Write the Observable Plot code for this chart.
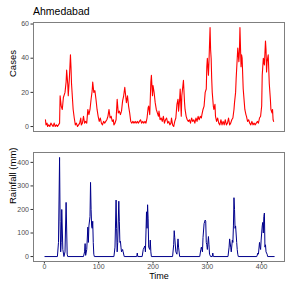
<!DOCTYPE html>
<html><head><meta charset="utf-8">
<script src="https://cdn.jsdelivr.net/npm/d3@7"></script>
<script src="https://cdn.jsdelivr.net/npm/@observablehq/plot@0.6"></script>
<style>
body{margin:0;background:#fff;font-family:"Liberation Sans",Arial,sans-serif}
#wrap{position:relative;width:293px;height:289px;overflow:hidden}
#title{position:absolute;left:33px;top:6px;font-size:10.5px;line-height:1;color:#000}
#top{position:absolute;left:0;top:0}
#bot{position:absolute;left:0;top:140px}
</style></head><body>
<div id="wrap"><div id="top"></div><div id="bot"></div><div id="title">Ahmedabad</div></div>
<script>
const cityName = "Ahmedabad";
const casesLabel = "Cases";
const rainLabel = "Rainfall (mm)";
const timeLabel = "Time";
const casesTicks = [0, 20, 40, 60];
const rainTicks = [0, 100, 200, 300, 400];
const timeTicks = [0, 100, 200, 300, 400];

// weekly cases (time, value)
const casesTime = [2,3,5,6,8,10,12,14,16,18,20,22,24,26,28,29,31,33,35,37,38,40,41,43,44,46,48,49,50,52,53,55,57,59,61,63,65,67,68,70,72,74,76,78,80,82,84,86,88,89,91,93,95,97,99,101,103,105,107,109,111,113,115,117,119,121,123,125,127,128,130,132,134,136,138,140,142,144,146,148,150,151,153,155,157,159,161,163,165,167,169,171,173,175,177,179,181,183,185,187,189,191,192,194,196,197,199,200,202,204,206,208,210,211,213,215,217,219,221,223,225,227,229,231,233,234,236,238,240,242,244,246,247,249,250,251,252,253,255,256,258,259,261,263,265,267,269,271,273,275,277,279,281,283,285,287,289,290,292,294,296,298,299,300,302,303,305,306,307,308,309,311,312,314,315,317,319,321,323,325,327,329,331,333,335,337,339,341,343,345,347,349,350,352,353,355,356,358,359,360,362,363,364,366,368,369,371,372,374,376,378,380,382,384,386,388,390,392,394,396,398,400,401,402,403,405,407,408,409,410,412,414,416,417,419,420,421,422];
const casesValue = [4,1,2,0,1,0,2,1,0,2,0,1,0,1,2,18,12,10,17,19,20,26,33,25,18,28,42,35,25,15,10,5,1,2,0,1,2,5,1,2,6,2,3,2,10,7,10,16,21,26,20,21,16,10,6,3,5,2,1,3,2,3,4,6,10,5,6,3,4,1,2,4,16,8,9,7,9,15,18,23,17,14,18,12,8,3,2,3,2,3,2,3,2,3,4,2,3,2,3,2,5,11,12,7,26,30,18,24,20,14,10,8,6,9,4,5,3,6,2,4,5,2,3,1,2,5,1,0,3,5,13,16,9,16,22,14,6,18,24,27,14,10,6,4,3,4,2,5,3,4,2,5,3,6,4,6,5,7,10,12,20,22,35,40,30,38,58,45,40,28,20,12,10,13,6,3,5,2,1,4,1,3,1,4,1,2,5,1,2,4,5,10,14,20,28,40,46,38,44,58,35,42,40,22,14,10,7,6,3,4,2,1,3,1,2,1,2,3,2,5,6,12,30,35,40,36,50,45,32,38,42,25,16,10,8,10,4,3];

// weekly rainfall (time, mm)
const rainTime = [1,24,26,28,29,30,31,32,34,36,38,40,42,43,72,74,75,76,78,80,81,82,84,85,86,87,88,89,90,91,92,128,130,132,133,134,135,137,138,139,140,141,142,144,145,147,170,171,172,180,182,184,185,186,187,188,189,190,191,192,194,195,196,197,236,238,239,240,242,244,246,247,249,286,288,289,291,292,294,296,297,298,299,300,302,303,304,306,309,310,311,338,340,341,343,344,346,347,348,349,350,351,352,354,355,356,357,391,393,394,396,397,398,399,401,402,403,404,405,406,407,408,410,411,423];
const rainValue = [0,0,60,421,150,20,60,200,30,0,20,230,10,0,0,20,55,5,30,125,60,130,170,315,200,130,120,150,60,10,0,0,40,240,120,20,60,235,150,60,65,40,20,30,20,0,0,15,0,0,30,40,45,20,100,190,120,220,160,40,30,70,20,0,0,50,110,80,20,10,75,40,0,0,30,40,20,80,140,155,150,60,50,30,85,50,10,0,0,15,0,0,40,75,40,20,70,60,130,250,200,120,130,60,30,10,0,0,15,10,60,40,30,70,130,145,100,170,185,40,50,20,10,0,0];

const cases = casesTime.map((t, i) => ({t, v: casesValue[i]}));
const rain = rainTime.map((t, i) => ({t, v: rainValue[i]}));

const font = '"Liberation Sans", Arial, sans-serif';
const tickStyle = {tickSize: 2.5, tickPadding: 2, stroke: "#333333", fill: "#4d4d4d", fontSize: 7, label: null};

const topPlot = Plot.plot({
  width: 293, height: 140,
  marginTop: 22, marginBottom: 9, marginLeft: 33, marginRight: 9,
  style: {fontFamily: font, background: "transparent", overflow: "visible"},
  x: {domain: [-20, 442], axis: null},
  y: {domain: [-2.9, 60.9], axis: null},
  marks: [
    Plot.line(cases, {x: "t", y: "v", stroke: "#ff0000", strokeWidth: 1.1}),
    Plot.axisY({...tickStyle, ticks: casesTicks}),
    Plot.frame({stroke: "#7f7f7f", strokeWidth: 1}),
    Plot.text([casesLabel], {frameAnchor: "left", rotate: -90, dx: -21, fontSize: 9.5, fill: "#000"})
  ]
});
document.getElementById("top").appendChild(topPlot);

const botPlot = Plot.plot({
  width: 293, height: 149,
  marginTop: 12, marginBottom: 28, marginLeft: 33, marginRight: 9,
  style: {fontFamily: font, background: "transparent", overflow: "visible"},
  x: {domain: [-20, 442], axis: null},
  y: {domain: [-21, 442], axis: null},
  marks: [
    Plot.line(rain, {x: "t", y: "v", stroke: "#00008b", strokeWidth: 1}),
    Plot.axisY({...tickStyle, ticks: rainTicks}),
    Plot.axisX({...tickStyle, tickPadding: 0.5, ticks: timeTicks}),
    Plot.frame({stroke: "#7f7f7f", strokeWidth: 1}),
    Plot.text([rainLabel], {frameAnchor: "left", rotate: -90, dx: -21, dy: -3, fontSize: 9.5, fill: "#000"}),
    Plot.text([timeLabel], {frameAnchor: "bottom", dy: 17, fontSize: 9, fill: "#000"})
  ]
});
document.getElementById("bot").appendChild(botPlot);
</script>
</body></html>
